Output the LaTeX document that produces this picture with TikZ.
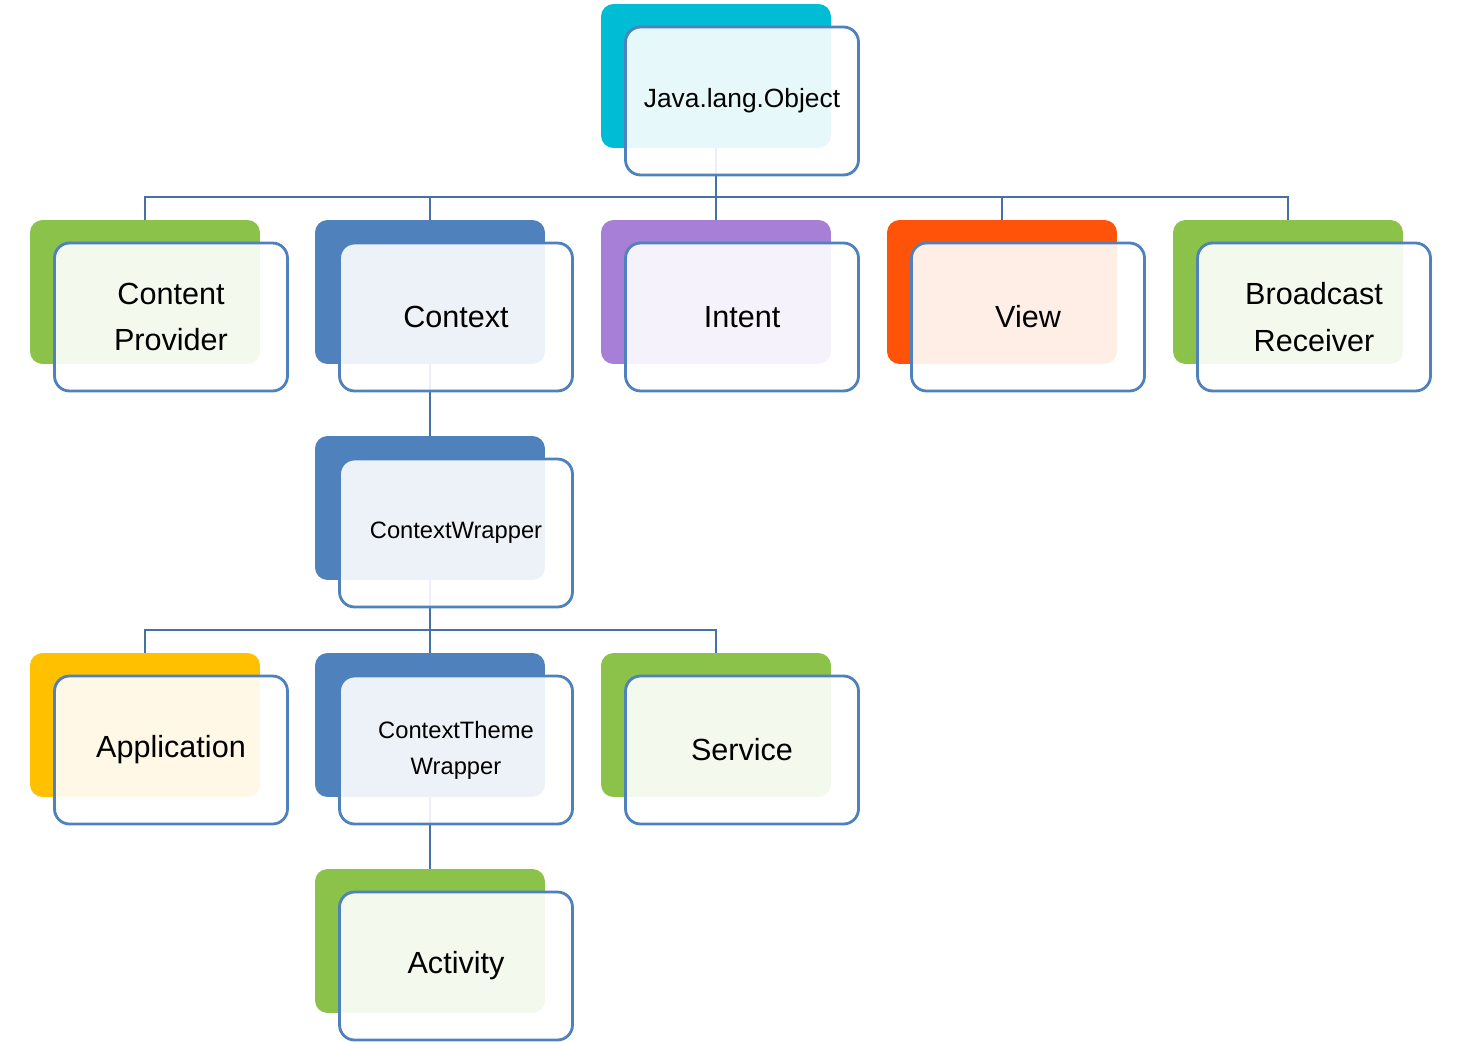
\documentclass[tikz,border=0pt]{standalone}
\usepackage{fontspec}
\setmainfont{Liberation Sans}
\usetikzlibrary{positioning}

\definecolor{objcyan}{RGB}{0,188,212}
\definecolor{leafgreen}{RGB}{139,195,74}
\definecolor{ctxblue}{RGB}{79,129,189}
\definecolor{intpurple}{RGB}{167,127,215}
\definecolor{vieworange}{RGB}{255,83,9}
\definecolor{appamber}{RGB}{255,192,0}
\definecolor{frameblue}{RGB}{79,129,189}
\definecolor{linkblue}{RGB}{70,112,166}

\newcommand{\bigtxt}{\fontsize{17.4}{26.6}\selectfont}
\newcommand{\midtxt}{\fontsize{15}{22}\selectfont}
\newcommand{\smalltxt}{\fontsize{13.5}{20.4}\selectfont}

\begin{document}
\begin{tikzpicture}[x=0.02cm, y=-0.02cm,
    back/.style = {rounded corners=0.25cm, minimum width=4.6cm, minimum height=2.88cm, inner sep=0pt},
    front/.style = {draw=frameblue, line width=1.6pt, fill=white, fill opacity=0.9, text opacity=1,
                    rounded corners=0.3cm, minimum width=4.66cm, minimum height=2.96cm, align=center, font=\bigtxt},
    link/.style = {draw=linkblue, line width=1.5pt}]
      \useasboundingbox (0,0) rectangle (1462,1043);
      \node[back, fill=objcyan] (javab) at (716,76) {};
      \node[back, fill=leafgreen] (cpb) at (145,292) {};
      \node[back, fill=ctxblue] (ctxb) at (430,292) {};
      \node[back, fill=intpurple] (intb) at (716,292) {};
      \node[back, fill=vieworange] (viewb) at (1002,292) {};
      \node[back, fill=leafgreen] (brb) at (1288,292) {};
      \node[back, fill=ctxblue] (cwb) at (430,508) {};
      \node[back, fill=appamber] (appb) at (145,725) {};
      \node[back, fill=ctxblue] (ctwb) at (430,725) {};
      \node[back, fill=leafgreen] (svcb) at (716,725) {};
      \node[back, fill=leafgreen] (actb) at (430,941) {};
      \coordinate (bus1) at (0,197);
      \coordinate (bus2) at (0,630);
      \foreach \c in {cpb, ctxb, intb, viewb, brb}
        \draw[link] (javab.south) |- (bus1 -| \c.north) -- (\c.north);
      \draw[link] (ctxb.south) -- (cwb.north);
      \foreach \c in {appb, ctwb, svcb}
        \draw[link] (cwb.south) |- (bus2 -| \c.north) -- (\c.north);
      \draw[link] (ctwb.south) -- (actb.north);
      \node[front, font=\midtxt] (java) at ([shift={(26,25)}]javab.center) {Java.lang.Object};
      \node[front] (cp) at ([shift={(26,25)}]cpb.center) {Content\\Provider};
      \node[front] (ctx) at ([shift={(26,25)}]ctxb.center) {Context};
      \node[front] (int) at ([shift={(26,25)}]intb.center) {Intent};
      \node[front] (view) at ([shift={(26,25)}]viewb.center) {View};
      \node[front] (br) at ([shift={(26,25)}]brb.center) {Broadcast\\Receiver};
      \node[front, font=\smalltxt] (cw) at ([shift={(26,25)}]cwb.center) {ContextWrapper};
      \node[front] (app) at ([shift={(26,25)}]appb.center) {Application};
      \node[front, font=\smalltxt] (ctw) at ([shift={(26,25)}]ctwb.center) {ContextTheme\\Wrapper};
      \node[front] (svc) at ([shift={(26,25)}]svcb.center) {Service};
      \node[front] (act) at ([shift={(26,25)}]actb.center) {Activity};
    \end{tikzpicture}
\end{document}
